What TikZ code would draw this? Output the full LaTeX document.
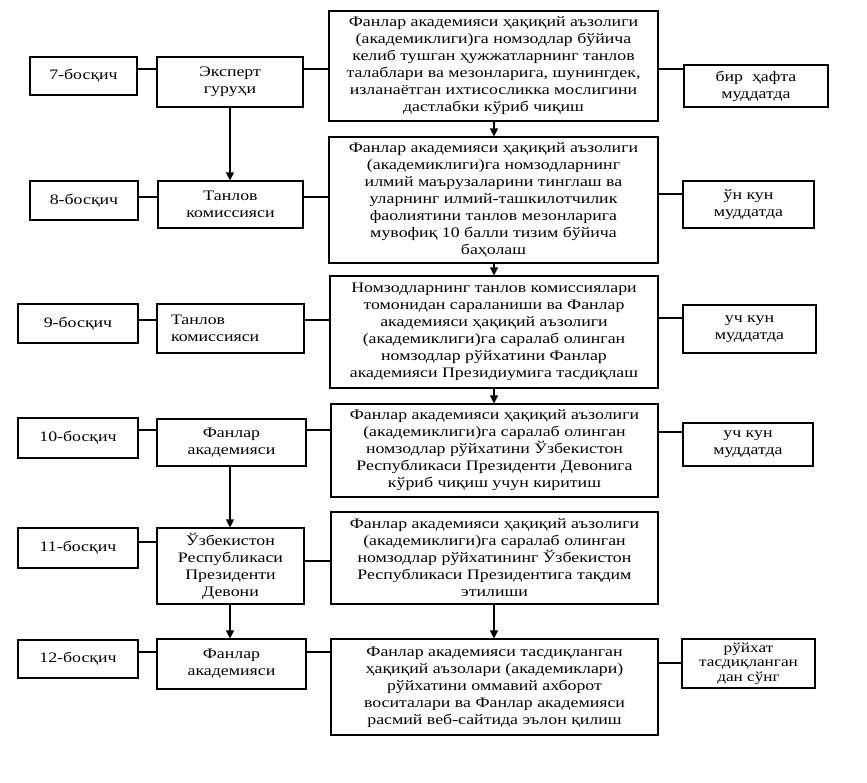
\documentclass[tikz,border=0pt]{standalone}
\usepackage{fontspec}
\setmainfont{Liberation Serif}[FakeStretch=1.23]
\usetikzlibrary{arrows.meta}
\tikzset{
  box/.style={draw=black, line width=1.2pt, inner sep=0pt, align=center, fill=white,
    font=\fontsize{14.5}{17}\selectfont},
  tight/.style={font=\fontsize{14}{14.6}\selectfont},
  conn/.style={draw=black, line width=1.2pt},
  arr/.style={draw=black, line width=1.2pt, -{Triangle[length=8pt,width=8pt]}}
}
\newcommand\bx[7][]{%
  \pgfmathsetmacro\bw{#4-#3}%
  \pgfmathsetmacro\bh{#6-#5}%
  \node[box,minimum width=\bw pt,minimum height=\bh pt,#1] (#2) at ({(#3+#4)/2},{(#5+#6)/2}) {#7};}
\begin{document}
\begin{tikzpicture}[x=1pt,y=-1pt]
\useasboundingbox[fill=white] (0,0) rectangle (867,782);
% row 7
\bx{s7}{30}{137}{57}{95}{7-босқич}
\bx{e7}{157}{303}{57}{107}{Эксперт\\ гуруҳи}
\bx{m7}{329}{658}{11}{121}{Фанлар академияси ҳақиқий аъзолиги\\ (академиклиги)га номзодлар бўйича\\ келиб тушган ҳужжатларнинг танлов\\ талаблари ва мезонларига, шунингдек,\\ изланаётган ихтисосликка мослигини\\ дастлабки кўриб чиқиш}
\bx{r7}{684}{828}{65}{107}{бир~~ҳафта\\ муддатда}
% row 8
\bx{s8}{30}{138}{181}{220}{8-босқич}
\bx{e8}{158}{303}{181}{228}{Танлов\\ комиссияси}
\bx{m8}{329}{658}{137}{263}{Фанлар академияси ҳақиқий аъзолиги\\ (академиклиги)га номзодларнинг\\ илмий маърузаларини тинглаш ва\\ уларнинг илмий-ташкилотчилик\\ фаолиятини танлов мезонларига\\ мувофиқ 10 балли тизим бўйича\\ баҳолаш}
\bx{r8}{683}{814}{181}{228}{ўн кун\\ муддатда}
% row 9
\bx{s9}{18}{138}{304}{343}{9-босқич}
\bx[align=left,text width=119pt]{e9}{157}{304}{304}{353}{Танлов\\ комиссияси}
\bx{m9}{330}{658}{276}{388}{Номзодларнинг танлов комиссиялари\\ томонидан сараланиши ва Фанлар\\ академияси ҳақиқий аъзолиги\\ (академиклиги)га саралаб олинган\\ номзодлар рўйхатини Фанлар\\ академияси Президиумига тасдиқлаш}
\bx{r9}{683}{816}{305}{353}{уч кун\\ муддатда}
% row 10
\bx{s10}{18}{138}{418}{458}{10-босқич}
\bx{e10}{157}{306}{419}{466}{Фанлар\\ академияси}
\bx{m10}{331}{658}{404}{497}{Фанлар академияси ҳақиқий аъзолиги\\ (академиклиги)га саралаб олинган\\ номзодлар рўйхатини Ўзбекистон\\ Республикаси Президенти Девонига\\ кўриб чиқиш учун киритиш}
\bx{r10}{683}{813}{423}{466}{уч кун\\ муддатда}
% row 11
\bx{s11}{18}{138}{528}{568}{11-босқич}
\bx{e11}{157}{304}{528}{604}{Ўзбекистон\\ Республикаси\\ Президенти\\ Девони}
\bx{m11}{331}{658}{512}{604}{Фанлар академияси ҳақиқий аъзолиги\\ (академиклиги)га саралаб олинган\\ номзодлар рўйхатининг Ўзбекистон\\ Республикаси Президентига тақдим\\ этилиши}
% row 12
\bx{s12}{18}{138}{640}{678}{12-босқич}
\bx{e12}{157}{306}{639}{689}{Фанлар\\ академияси}
\bx{m12}{331}{658}{639}{735}{Фанлар академияси тасдиқланган\\ ҳақиқий аъзолари (академиклари)\\ рўйхатини оммавий ахборот\\ воситалари ва Фанлар академияси\\ расмий веб-сайтида эълон қилиш}
\bx[tight]{r12}{682}{815}{639}{688}{рўйхат\\ тасдиқланган\\ дан сўнг}
% level coordinates for horizontal connectors
\coordinate (h7) at (0,69);
\coordinate (h8a) at (0,197);
\coordinate (h8b) at (0,194);
\coordinate (h9a) at (0,320);
\coordinate (h9b) at (0,318);
\coordinate (h10a) at (0,430);
\coordinate (h10b) at (0,432);
\coordinate (h11a) at (0,542);
\coordinate (h11b) at (0,561);
\coordinate (h12a) at (0,652);
\coordinate (h12b) at (0,663);
% horizontal connectors
\draw[conn] (s7.east |- h7) -- (e7.west |- h7);
\draw[conn] (e7.east |- h7) -- (m7.west |- h7);
\draw[conn] (m7.east |- h7) -- (r7.west |- h7);
\draw[conn] (s8.east |- h8a) -- (e8.west |- h8a);
\draw[conn] (e8.east |- h8a) -- (m8.west |- h8a);
\draw[conn] (m8.east |- h8b) -- (r8.west |- h8b);
\draw[conn] (s9.east |- h9a) -- (e9.west |- h9a);
\draw[conn] (e9.east |- h9a) -- (m9.west |- h9a);
\draw[conn] (m9.east |- h9b) -- (r9.west |- h9b);
\draw[conn] (s10.east |- h10a) -- (e10.west |- h10a);
\draw[conn] (e10.east |- h10a) -- (m10.west |- h10a);
\draw[conn] (m10.east |- h10b) -- (r10.west |- h10b);
\draw[conn] (s11.east |- h11a) -- (e11.west |- h11a);
\draw[conn] (e11.east |- h11b) -- (m11.west |- h11b);
\draw[conn] (s12.east |- h12a) -- (e12.west |- h12a);
\draw[conn] (e12.east |- h12a) -- (m12.west |- h12a);
\draw[conn] (m12.east |- h12b) -- (r12.west |- h12b);
% vertical arrows
\coordinate (vm) at (494,0);
\coordinate (ve) at (230,0);
\draw[arr] (e7.south -| ve) -- (e8.north -| ve);
\draw[arr] (e10.south -| ve) -- (e11.north -| ve);
\draw[arr] (e11.south -| ve) -- (e12.north -| ve);
\draw[arr] (m7.south -| vm) -- (m8.north -| vm);
\draw[arr] (m8.south -| vm) -- (m9.north -| vm);
\draw[arr] (m9.south -| vm) -- (m10.north -| vm);
\draw[arr] (m11.south -| vm) -- (m12.north -| vm);
\end{tikzpicture}
\end{document}
